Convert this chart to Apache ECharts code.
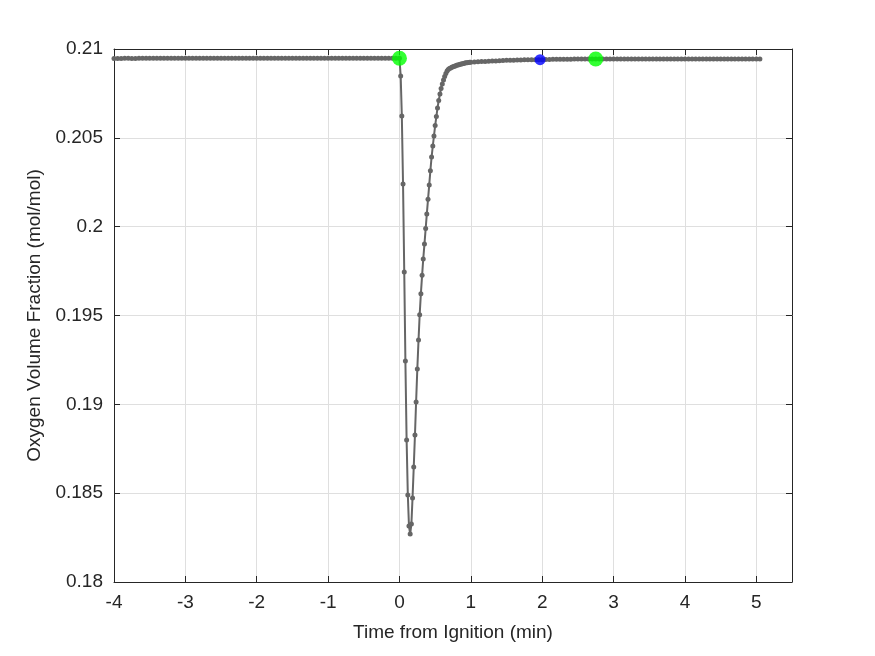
<!DOCTYPE html>
<html>
<head>
<meta charset="utf-8">
<script src="https://cdn.jsdelivr.net/npm/echarts@6/dist/echarts.min.js"></script>
<style>
  html, body { margin: 0; padding: 0; background: #fff; }
  #chart { width: 875px; height: 656px; }
</style>
</head>
<body>
<div id="chart"></div>
<script>
// before ignition, every 3 s
const preTime = [-4, -3.95, -3.9, -3.85, -3.8, -3.75, -3.7, -3.65, -3.6, -3.55, -3.5, -3.45, -3.4, -3.35, -3.3, -3.25, -3.2, -3.15, -3.1, -3.05,
  -3, -2.95, -2.9, -2.85, -2.8, -2.75, -2.7, -2.65, -2.6, -2.55, -2.5, -2.45, -2.4, -2.35, -2.3, -2.25, -2.2, -2.15, -2.1, -2.05,
  -2, -1.95, -1.9, -1.85, -1.8, -1.75, -1.7, -1.65, -1.6, -1.55, -1.5, -1.45, -1.4, -1.35, -1.3, -1.25, -1.2, -1.15, -1.1, -1.05,
  -1, -0.95, -0.9, -0.85, -0.8, -0.75, -0.7, -0.65, -0.6, -0.55, -0.5, -0.45, -0.4, -0.35, -0.3, -0.25, -0.2, -0.15, -0.1, -0.05, 0]
const preO2 = [0.20947, 0.20947, 0.20947, 0.20948, 0.20948, 0.20947, 0.20947, 0.20948, 0.20948, 0.20948, 0.20948, 0.20948, 0.20948, 0.20948, 0.20948, 0.20948, 0.20948, 0.20948, 0.20948, 0.20948,
  0.20948, 0.20948, 0.20948, 0.20948, 0.20948, 0.20948, 0.20948, 0.20948, 0.20948, 0.20948, 0.20948, 0.20948, 0.20948, 0.20948, 0.20948, 0.20948, 0.20948, 0.20948, 0.20948, 0.20948,
  0.20948, 0.20948, 0.20948, 0.20948, 0.20948, 0.20948, 0.20948, 0.20948, 0.20948, 0.20948, 0.20948, 0.20948, 0.20948, 0.20948, 0.20948, 0.20948, 0.20948, 0.20948, 0.20948, 0.20948,
  0.20948, 0.20948, 0.20948, 0.20948, 0.20948, 0.20948, 0.20948, 0.20948, 0.20948, 0.20948, 0.20948, 0.20948, 0.20948, 0.20948, 0.20948, 0.20948, 0.20948, 0.20948, 0.20948, 0.20948, 0.20948]

// the dip, every 1 s
const dipTime = [0.017, 0.033, 0.05, 0.067, 0.083, 0.1, 0.117, 0.133, 0.15, 0.167, 0.183, 0.2, 0.217, 0.233, 0.25, 0.267, 0.283, 0.3, 0.317, 0.333,
  0.35, 0.367, 0.383, 0.4, 0.417, 0.433, 0.45, 0.467, 0.483, 0.5, 0.517, 0.533, 0.55, 0.567, 0.583, 0.6, 0.617, 0.633, 0.65, 0.667,
  0.683, 0.7, 0.717, 0.733, 0.75, 0.767, 0.783, 0.8, 0.817, 0.833, 0.85, 0.867, 0.883, 0.9, 0.917, 0.933, 0.95, 0.967, 0.983, 1]
const dipO2 = [0.20848, 0.20623, 0.2024, 0.19745, 0.19244, 0.18799, 0.1849, 0.18315, 0.1827, 0.18327, 0.18473, 0.18647, 0.18827, 0.19013, 0.19199, 0.19362, 0.19504, 0.19623, 0.19726, 0.19818,
  0.19902, 0.19989, 0.20071, 0.20154, 0.20235, 0.20315, 0.20392, 0.20454, 0.2051, 0.20569, 0.2062, 0.20668, 0.2071, 0.20747, 0.20778, 0.20803, 0.20826, 0.20845, 0.20862, 0.20876,
  0.20885, 0.2089, 0.20893, 0.20897, 0.209, 0.20903, 0.20905, 0.20908, 0.2091, 0.20912, 0.20914, 0.20916, 0.20917, 0.20919, 0.20921, 0.20922, 0.20923, 0.20924, 0.20925, 0.20926]

// recovery, every 3 s
const postTime = [1.05, 1.1, 1.15, 1.2, 1.25, 1.3, 1.35, 1.4, 1.45, 1.5, 1.55, 1.6, 1.65, 1.7, 1.75, 1.8, 1.85, 1.9, 1.95, 2,
  2.05, 2.1, 2.15, 2.2, 2.25, 2.3, 2.35, 2.4, 2.45, 2.5, 2.55, 2.6, 2.65, 2.7, 2.75, 2.8, 2.85, 2.9, 2.95, 3,
  3.05, 3.1, 3.15, 3.2, 3.25, 3.3, 3.35, 3.4, 3.45, 3.5, 3.55, 3.6, 3.65, 3.7, 3.75, 3.8, 3.85, 3.9, 3.95, 4,
  4.05, 4.1, 4.15, 4.2, 4.25, 4.3, 4.35, 4.4, 4.45, 4.5, 4.55, 4.6, 4.65, 4.7, 4.75, 4.8, 4.85, 4.9, 4.95, 5, 5.05]
const postO2 = [0.20927, 0.20928, 0.20929, 0.2093, 0.20931, 0.20932, 0.20933, 0.20934, 0.20935, 0.20936, 0.20937, 0.20937, 0.20938, 0.20938, 0.20939, 0.20939, 0.20939, 0.2094, 0.2094, 0.2094,
  0.20941, 0.20941, 0.20942, 0.20942, 0.20942, 0.20943, 0.20943, 0.20943, 0.20944, 0.20944, 0.20944, 0.20944, 0.20944, 0.20944, 0.20944, 0.20944, 0.20944, 0.20944, 0.20944, 0.20944,
  0.20944, 0.20944, 0.20944, 0.20944, 0.20944, 0.20944, 0.20944, 0.20944, 0.20944, 0.20944, 0.20944, 0.20944, 0.20944, 0.20944, 0.20944, 0.20944, 0.20944, 0.20944, 0.20944, 0.20944,
  0.20944, 0.20944, 0.20944, 0.20944, 0.20944, 0.20944, 0.20944, 0.20944, 0.20944, 0.20944, 0.20944, 0.20944, 0.20944, 0.20944, 0.20944, 0.20944, 0.20944, 0.20944, 0.20944, 0.20944, 0.20944]

// event markers
const greenPoints = [[0, 0.20948], [2.75, 0.20944]]
const bluePoints = [[1.97, 0.2094]]

const xTicks = [-4, -3, -2, -1, 0, 1, 2, 3, 4, 5]
const yTicks = [0.18, 0.185, 0.19, 0.195, 0.2, 0.205, 0.21]

const pairs = (t, v) => t.map((x, i) => [x, v[i]])
const o2Data = [].concat(pairs(preTime, preO2), pairs(dipTime, dipO2), pairs(postTime, postO2))

const ink = '#262626'
const font = 'Liberation Sans, Arial, sans-serif'

const chart = echarts.init(document.getElementById('chart'))

const xBase = {
  type: 'value',
  min: xTicks[0],
  max: 5.5,
  interval: 1,
  axisLine: { show: true, onZero: false, lineStyle: { color: ink, width: 1 } },
  axisTick: { show: true, inside: true, length: 6, lineStyle: { color: ink } },
  splitLine: { show: false }
}
const yBase = {
  type: 'value',
  min: yTicks[0],
  max: yTicks[yTicks.length - 1],
  interval: 0.005,
  axisLine: { show: true, onZero: false, lineStyle: { color: ink, width: 1 } },
  axisTick: { show: true, inside: true, length: 6, lineStyle: { color: ink } },
  splitLine: { show: false }
}

chart.setOption({
  animation: false,
  backgroundColor: '#fff',
  grid: { left: 114, right: 83, top: 49, bottom: 74 },
  xAxis: [
    Object.assign({}, xBase, {
      position: 'bottom',
      name: 'Time from Ignition (min)',
      nameLocation: 'middle',
      nameGap: 41,
      nameTextStyle: { fontFamily: font, fontSize: 19, color: ink },
      axisLabel: {
        fontFamily: font, fontSize: 19, color: ink, margin: 11,
        showMaxLabel: false,
        formatter: v => (xTicks.includes(v) ? String(v) : '')
      },
      splitLine: { show: true, lineStyle: { color: '#dfdfdf', width: 1 } }
    }),
    Object.assign({}, xBase, { position: 'top', axisLabel: { show: false } })
  ],
  yAxis: [
    Object.assign({}, yBase, {
      position: 'left',
      name: 'Oxygen Volume Fraction (mol/mol)',
      nameLocation: 'middle',
      nameGap: 68,
      nameTextStyle: { fontFamily: font, fontSize: 19, color: ink },
      axisLabel: {
        fontFamily: font, fontSize: 19, color: ink, margin: 11,
        formatter: v => String(+v.toFixed(4))
      },
      splitLine: { show: true, lineStyle: { color: '#dfdfdf', width: 1 } }
    }),
    Object.assign({}, yBase, { position: 'right', axisLabel: { show: false } })
  ],
  series: [
    {
      name: 'O2',
      type: 'line',
      data: o2Data,
      symbol: 'circle',
      symbolSize: 5,
      showAllSymbol: true,
      itemStyle: { color: '#666666' },
      lineStyle: { color: '#666666', width: 2 },
      z: 2
    },
    {
      name: 'green',
      type: 'scatter',
      data: greenPoints,
      symbolSize: 15,
      itemStyle: { color: '#00ff00' },
      z: 3
    },
    {
      name: 'blue',
      type: 'scatter',
      data: bluePoints,
      symbolSize: 11,
      itemStyle: { color: '#0000ff' },
      z: 3
    }
  ]
})
</script>
</body>
</html>
